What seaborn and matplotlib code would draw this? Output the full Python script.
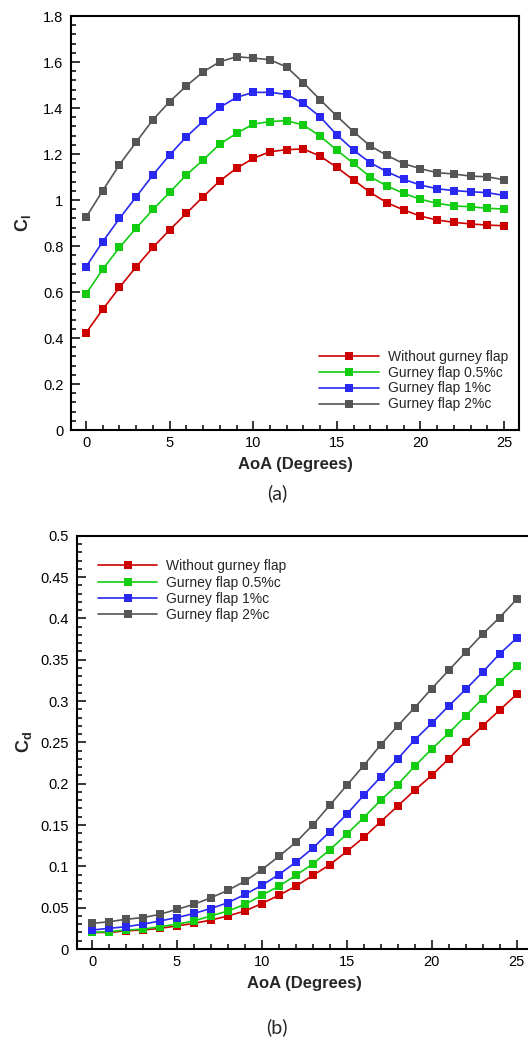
import matplotlib
matplotlib.use("Agg")
import matplotlib.pyplot as plt
from matplotlib.ticker import MultipleLocator, FuncFormatter
import pandas as pd
import seaborn as sns

aoa = list(range(26))

labels = ["Without gurney flap", "Gurney flap 0.5%c", "Gurney flap 1%c", "Gurney flap 2%c"]
colors = ["#cc0000", "#11cc11", "#2828f0", "#555555"]

# lift coefficient
cl_none = [0.423, 0.525, 0.620, 0.710, 0.794, 0.870, 0.942, 1.014, 1.083, 1.138, 1.181, 1.210, 1.219,
           1.222, 1.191, 1.142, 1.087, 1.033, 0.988, 0.957, 0.930, 0.913, 0.903, 0.896, 0.891, 0.888]
cl_05 = [0.591, 0.699, 0.794, 0.878, 0.959, 1.033, 1.109, 1.174, 1.243, 1.290, 1.330, 1.341, 1.345,
         1.326, 1.278, 1.217, 1.159, 1.101, 1.061, 1.029, 1.003, 0.986, 0.974, 0.971, 0.964, 0.961]
cl_1 = [0.710, 0.819, 0.920, 1.014, 1.109, 1.196, 1.275, 1.342, 1.403, 1.446, 1.468, 1.468, 1.459,
        1.420, 1.362, 1.283, 1.217, 1.162, 1.123, 1.090, 1.065, 1.049, 1.041, 1.036, 1.032, 1.020]
cl_2 = [0.925, 1.041, 1.154, 1.252, 1.349, 1.428, 1.496, 1.557, 1.601, 1.623, 1.617, 1.610, 1.578,
        1.510, 1.436, 1.365, 1.297, 1.235, 1.194, 1.158, 1.136, 1.119, 1.113, 1.104, 1.101, 1.088]

# drag coefficient
cd_none = [0.020, 0.020, 0.022, 0.023, 0.025, 0.028, 0.031, 0.035, 0.040, 0.046, 0.055, 0.065, 0.076,
           0.089, 0.102, 0.118, 0.135, 0.154, 0.173, 0.192, 0.210, 0.230, 0.251, 0.270, 0.289, 0.308]
cd_05 = [0.020, 0.021, 0.023, 0.024, 0.027, 0.030, 0.034, 0.040, 0.046, 0.054, 0.065, 0.076, 0.089,
         0.103, 0.120, 0.139, 0.159, 0.180, 0.199, 0.221, 0.242, 0.261, 0.282, 0.303, 0.323, 0.342]
cd_1 = [0.023, 0.025, 0.027, 0.030, 0.034, 0.038, 0.043, 0.049, 0.056, 0.066, 0.077, 0.090, 0.105,
        0.122, 0.142, 0.163, 0.186, 0.208, 0.230, 0.253, 0.273, 0.294, 0.314, 0.335, 0.357, 0.376]
cd_2 = [0.031, 0.033, 0.036, 0.038, 0.042, 0.048, 0.054, 0.062, 0.071, 0.082, 0.096, 0.112, 0.129,
        0.150, 0.174, 0.198, 0.222, 0.247, 0.270, 0.292, 0.315, 0.337, 0.359, 0.381, 0.401, 0.423]

sns.set_style("ticks")
plt.rcParams['font.family'] = ['Liberation Sans', 'DejaVu Sans']
plt.rcParams['mathtext.fontset'] = 'custom'
plt.rcParams['mathtext.rm'] = 'Liberation Sans'
plt.rcParams['mathtext.bf'] = 'Liberation Sans:bold'


def style_axes(ax, ymax, ymajor, yminor):
    ax.set_xlim(-0.9, 25.9)
    ax.set_ylim(0, ymax)
    ax.xaxis.set_major_locator(MultipleLocator(5))
    ax.xaxis.set_minor_locator(MultipleLocator(1))
    ax.yaxis.set_major_locator(MultipleLocator(ymajor))
    ax.yaxis.set_minor_locator(MultipleLocator(yminor))
    ax.yaxis.set_major_formatter(FuncFormatter(lambda v, p: f"{round(v, 3):g}"))
    ax.tick_params(which='both', direction='in', width=1.1, colors='black', labelsize=10.5)
    ax.tick_params(which='major', length=6.5)
    ax.tick_params(which='minor', length=3.5)
    ax.tick_params(axis='y', pad=5.5)
    ax.tick_params(axis='x', pad=4)
    for s in ax.spines.values():
        s.set_linewidth(1.5)
        s.set_color('black')
    ax.set_xlabel("AoA (Degrees)", fontsize=12, fontweight='bold', labelpad=5)


def draw(ax, series):
    for vals, lab, col in zip(series, labels, colors):
        df = pd.DataFrame({"aoa": aoa, "val": vals})
        sns.lineplot(data=df, x="aoa", y="val", ax=ax, color=col, marker='s', markersize=6,
                     markeredgewidth=0, linewidth=1.2, label=lab)


fig = plt.figure(figsize=(5.28, 10.39), dpi=100)

ax1 = fig.add_axes([0.1345, 0.5861, 0.8485, 0.3985])
draw(ax1, [cl_none, cl_05, cl_1, cl_2])
style_axes(ax1, 1.8, 0.2, 0.04)
ax1.set_ylabel(r"$\mathbf{C_l}$", fontsize=13, labelpad=7)
ax1.legend(loc='lower right', bbox_to_anchor=(0.975, 0.045), frameon=False, fontsize=10,
           handlelength=4.3, handletextpad=0.65, labelspacing=0.14, borderpad=0, borderaxespad=0)

ax2 = fig.add_axes([0.1453, 0.0866, 0.862, 0.3978])
draw(ax2, [cd_none, cd_05, cd_1, cd_2])
style_axes(ax2, 0.5, 0.05, 0.01)
ax2.set_ylabel(r"$\mathbf{C_d}$", fontsize=13, labelpad=5)
ax2.legend(loc='upper left', bbox_to_anchor=(0.046, 0.943), frameon=False, fontsize=10,
           handlelength=4.3, handletextpad=0.65, labelspacing=0.17, borderpad=0, borderaxespad=0)

fig.text(0.525, 1 - 493 / 1039, "(a)", fontsize=14, ha='center', va='center', family=['Lato', 'DejaVu Sans'])
fig.text(0.525, 1 - 1027 / 1039, "(b)", fontsize=14, ha='center', va='center', family=['Lato', 'DejaVu Sans'])

fig.savefig("out.png", dpi=100)
